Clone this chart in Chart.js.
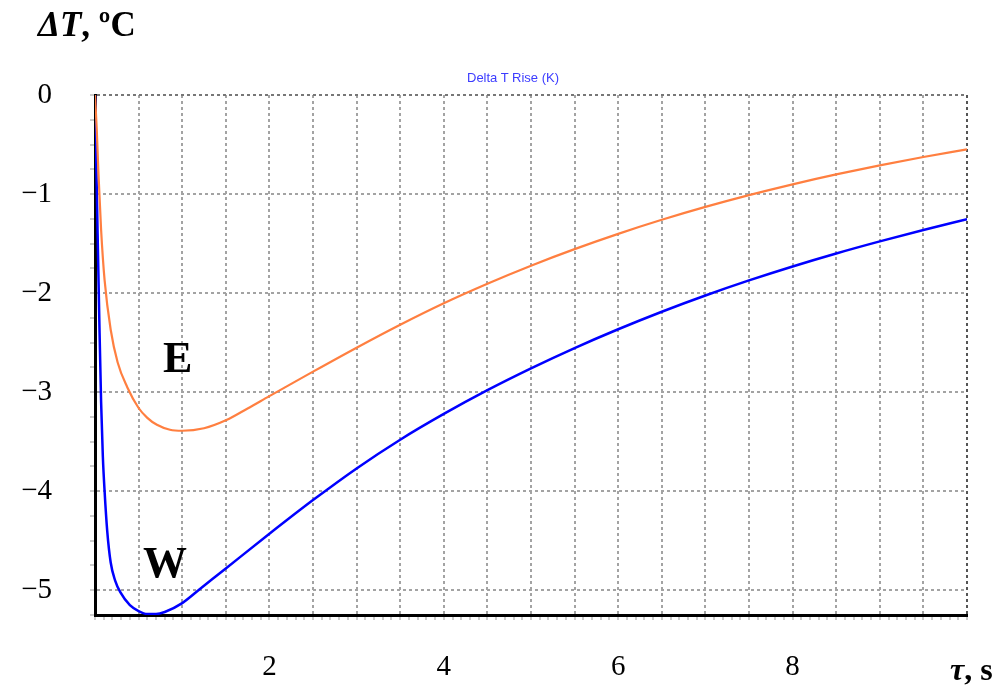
<!DOCTYPE html>
<html><head><meta charset="utf-8">
<script src="https://cdn.jsdelivr.net/npm/chart.js@4/dist/chart.umd.min.js"></script>
<style>
html,body{margin:0;padding:0;background:#fff;}
#wrap{position:relative;width:997px;height:693px;overflow:hidden;}
canvas{position:absolute;left:0;top:0;}
.lbl{position:absolute;font-family:'Liberation Serif','Times New Roman',serif;font-weight:bold;line-height:1;white-space:nowrap;color:#000;}
.ttl{position:absolute;font-family:'Liberation Sans',Arial,sans-serif;font-size:13px;line-height:1;color:#3c3cff;white-space:nowrap;}
</style></head><body>
<div id="wrap">
<canvas id="c" width="997" height="693"></canvas>
<div class="lbl" style="left:38px;top:7px;font-size:35px;"><i>ΔT</i>, ºC</div>
<div class="ttl" style="left:467px;top:71px;">Delta T Rise (K)</div>
<div class="lbl" style="left:163px;top:336px;font-size:44px;">E</div>
<div class="lbl" style="left:143px;top:541px;font-size:44px;">W</div>
<div class="lbl" style="left:950px;top:653px;font-size:32px;"><i>τ</i>, s</div>
</div>
<script>
// time (s) and temperature rise (°C) for curve E
const eTime  = [0, 0.02, 0.04, 0.07, 0.11, 0.18, 0.26, 0.37, 0.5, 0.6, 0.71, 0.86, 1.0, 1.25, 1.5, 1.75, 2.0, 2.5, 3.0, 3.5, 4.0, 4.5, 5.0, 5.5, 6.0, 6.5, 7.0, 7.5, 8.0, 8.5, 9.0, 9.5, 10];
const eDelta = [0, -0.35, -0.8, -1.36, -1.87, -2.37, -2.7, -2.95, -3.16, -3.26, -3.33, -3.38, -3.39, -3.365, -3.285, -3.165, -3.04, -2.793, -2.551, -2.319, -2.102, -1.905, -1.723, -1.556, -1.402, -1.26, -1.13, -1.011, -0.902, -0.802, -0.71, -0.626, -0.549];
// time (s) and temperature rise (°C) for curve W
const wTime  = [0, 0.015, 0.03, 0.05, 0.07, 0.09, 0.11, 0.14, 0.18, 0.23, 0.29, 0.4, 0.5, 0.6, 0.7, 0.8, 1.0, 1.2, 1.5, 2.0, 2.5, 3.0, 3.5, 4.0, 4.5, 5.0, 5.5, 6.0, 6.5, 7.0, 7.5, 8.0, 8.5, 9.0, 9.5, 10];
const wDelta = [0, -0.7, -1.4, -2.3, -3.1, -3.65, -4.0, -4.4, -4.72, -4.9, -5.02, -5.15, -5.21, -5.24, -5.24, -5.22, -5.13, -4.99, -4.78, -4.43, -4.09, -3.77, -3.48, -3.22, -2.98, -2.76, -2.555, -2.365, -2.188, -2.024, -1.872, -1.731, -1.60, -1.478, -1.363, -1.253];
// labelled ticks
const xTickLabels = [2, 4, 6, 8];
const yTickLabels = [0, -1, -2, -3, -4, -5];

const tickFont = {family: "'Liberation Serif','Times New Roman',serif", size: 29};
const gridGrey = '#a3a3a3';

new Chart(document.getElementById('c'), {
  type: 'line',
  data: {
    datasets: [
      {label: 'E', data: eTime.map((t, i) => ({x: t, y: eDelta[i]})), borderColor: '#ff7f40', borderWidth: 2.2, pointRadius: 0, cubicInterpolationMode: 'monotone', fill: false},
      {label: 'W', data: wTime.map((t, i) => ({x: t, y: wDelta[i]})), borderColor: '#0000ff', borderWidth: 2.5, pointRadius: 0, cubicInterpolationMode: 'monotone', fill: false}
    ]
  },
  options: {
    responsive: false,
    devicePixelRatio: 1,
    animation: false,
    layout: {padding: {top: 95, right: 27, left: 0, bottom: 0}},
    plugins: {legend: {display: false}, tooltip: {enabled: false}, title: {display: false}},
    scales: {
      x: {
        type: 'linear', min: 0, max: 10, position: 'bottom',
        afterBuildTicks: s => { const a = []; for (let k = 0; k <= 100; k++) a.push({value: k / 10}); s.ticks = a; },
        afterFit: s => { s.height = 78; },
        ticks: {
          autoSkip: false, maxRotation: 0, minRotation: 0, padding: 30, color: '#000', font: tickFont,
          callback: v => { const r = Math.round(v * 10) / 10; return xTickLabels.includes(r) ? String(r) : ''; }
        },
        grid: {
          color: ctx => {
            const v = Math.round(ctx.tick.value * 10);
            if (v === 100) return '#555';
            return (v % 5 === 0) ? gridGrey : 'rgba(0,0,0,0)';
          },
          lineWidth: 2, tickColor: '#999', tickLength: 5, tickWidth: 1
        },
        border: {color: '#000', width: 3, dash: [3, 3]}
      },
      y: {
        type: 'linear', min: -5.25, max: 0,
        afterBuildTicks: s => { const a = []; for (let k = 0; k <= 21; k++) a.push({value: -k / 4}); s.ticks = a; },
        afterFit: s => { s.width = 95; },
        ticks: {
          autoSkip: false, padding: 38, color: '#000', font: tickFont,
          callback: v => { const r = Math.round(v * 100) / 100; if (!yTickLabels.includes(r)) return ''; return r === 0 ? '0' : '\u2212' + Math.abs(r); }
        },
        grid: {
          color: ctx => {
            const v = Math.round(ctx.tick.value * 100) / 100;
            if (v === 0) return '#777';
            return Number.isInteger(v) ? gridGrey : 'rgba(0,0,0,0)';
          },
          lineWidth: 2, tickColor: '#999', tickLength: 5, tickWidth: 1
        },
        border: {color: '#000', width: 3, dash: [3, 3]}
      }
    }
  }
});
</script>
</body></html>
